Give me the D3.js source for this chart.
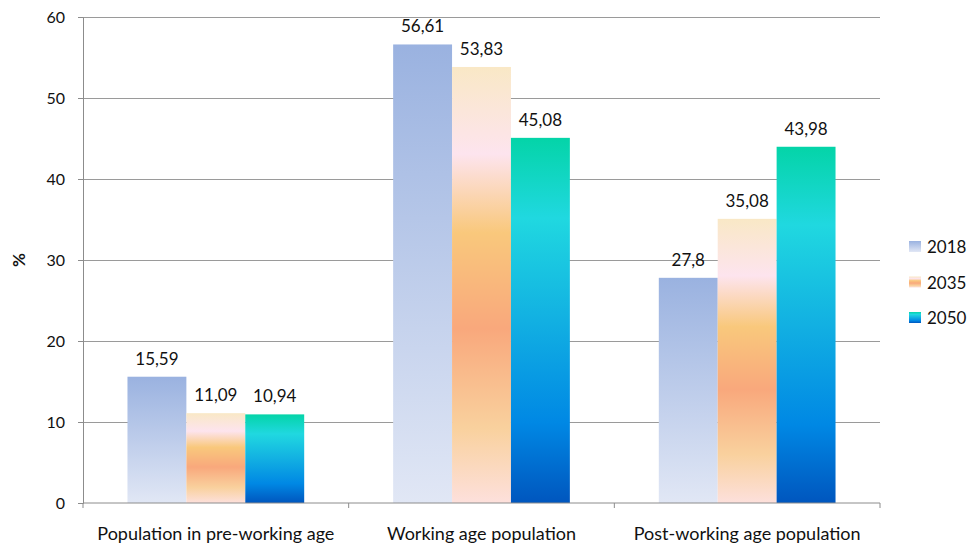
<!DOCTYPE html>
<html>
<head>
<meta charset="utf-8">
<script src="https://cdn.jsdelivr.net/npm/d3@7"></script>
<style>
  html, body { margin: 0; padding: 0; background: #fff; }
  svg text { font-family: "Lato", "Open Sans", "Liberation Sans", sans-serif; fill: #111; }
</style>
</head>
<body>
<svg id="chart" width="969" height="547"></svg>
<script>
// Population age structure (share of total, %)
const categories = ["Population in pre-working age", "Working age population", "Post-working age population"];
const years = ["2018", "2035", "2050"];
const values2018 = [15.59, 56.61, 27.8];
const values2035 = [11.09, 53.83, 35.08];
const values2050 = [10.94, 45.08, 43.98];
const labels2018 = ["15,59", "56,61", "27,8"];
const labels2035 = ["11,09", "53,83", "35,08"];
const labels2050 = ["10,94", "45,08", "43,98"];
const yTicks = [0, 10, 20, 30, 40, 50, 60];

const seriesValues = [values2018, values2035, values2050];
const seriesLabels = [labels2018, labels2035, labels2050];

const svg = d3.select("#chart");
const margin = { left: 83, right: 89, top: 17, bottom: 44 };
const W = 969, H = 547;
const FONT = "Lato, 'Open Sans', sans-serif";

const x0 = d3.scaleBand().domain(categories).range([margin.left, W - margin.right]).paddingInner(0).paddingOuter(0);
const x1 = d3.scaleBand().domain(years).range([0, x0.bandwidth()]).paddingInner(0).paddingOuter(0.755);
const y = d3.scaleLinear().domain([0, 60]).range([H - margin.bottom, margin.top]);

// Per-bar vertical gradients
const defs = svg.append("defs");
const gradients = {
  "2018": [[0, "#9ab2e0"], [1, "#e1e7f5"]],
  "2035": [[0, "#f9e8c6"], [0.2, "#fde4ee"], [0.38, "#f9c87c"], [0.6, "#f9a87c"], [0.83, "#f9d19e"], [1, "#fde0dc"]],
  "2050": [[0, "#04d4a8"], [0.22, "#20d8e0"], [0.5, "#12b0e2"], [0.78, "#0088e4"], [1, "#0056be"]]
};
years.forEach(yr => {
  const g = defs.append("linearGradient").attr("id", "grad" + yr)
    .attr("x1", 0).attr("y1", 0).attr("x2", 0).attr("y2", 1);
  gradients[yr].forEach(([o, c]) => g.append("stop").attr("offset", o).attr("stop-color", c));
});

// Gridlines
svg.append("g").selectAll("line").data(yTicks.filter(t => t > 0)).join("line")
  .attr("x1", margin.left).attr("x2", W - margin.right)
  .attr("y1", d => y(d)).attr("y2", d => y(d))
  .attr("stroke", "#9a9a9a").attr("stroke-width", 1).attr("shape-rendering", "crispEdges");

// Bars with value labels
const groups = svg.append("g").selectAll("g").data(categories).join("g")
  .attr("transform", d => `translate(${x0(d)},0)`);
groups.each(function(cat, ci) {
  const g = d3.select(this);
  years.forEach((yr, si) => {
    const v = seriesValues[si][ci];
    g.append("rect")
      .attr("x", x1(yr)).attr("width", x1.bandwidth())
      .attr("y", y(v)).attr("height", y(0) - y(v))
      .attr("fill", `url(#grad${yr})`);
    g.append("text")
      .attr("x", x1(yr) + x1.bandwidth() / 2).attr("y", y(v) - 12)
      .attr("text-anchor", "middle").attr("font-size", 17)
      .text(seriesLabels[si][ci]);
  });
});

// Y axis
const yAxis = svg.append("g").attr("transform", `translate(${margin.left},0)`)
  .call(d3.axisLeft(y).tickValues(yTicks).tickSize(5).tickPadding(13).tickFormat(d3.format("d")));
yAxis.select(".domain").attr("stroke", "#8c8c8c");
yAxis.selectAll(".tick line").attr("stroke", "#8c8c8c");
yAxis.selectAll(".tick text").attr("font-size", 16).attr("fill", "#111").style("font-family", FONT);

// X axis
const xAxis = svg.append("g").attr("transform", `translate(0,${y(0)})`)
  .call(d3.axisBottom(x0).tickSize(0).tickPadding(24));
xAxis.select(".domain").attr("stroke", "#8c8c8c").attr("d", `M${margin.left},0H${W - margin.right}`);
xAxis.selectAll(".tick text").attr("font-size", 18).attr("fill", "#111").style("font-family", FONT);
// Category separators
const bounds = categories.map(c => x0(c)).concat([x0(categories[categories.length - 1]) + x0.bandwidth()]);
xAxis.append("g").selectAll("line").data(bounds).join("line")
  .attr("x1", d => d).attr("x2", d => d).attr("y1", 0).attr("y2", 5)
  .attr("stroke", "#8c8c8c");

// Y axis title
svg.append("text")
  .attr("transform", `translate(25,${(y(0) + y(60)) / 2}) rotate(-90)`)
  .attr("text-anchor", "middle").attr("font-size", 17).attr("font-weight", "bold")
  .text("%");

// Legend
const legend = svg.append("g").attr("transform", "translate(909,241)");
years.forEach((yr, i) => {
  const lg = legend.append("g").attr("transform", `translate(0,${i * 35.5})`);
  lg.append("rect").attr("width", 12).attr("height", 11).attr("fill", `url(#grad${yr})`);
  lg.append("text").attr("x", 18).attr("y", 12).attr("font-size", 17).text(yr);
});
</script>
</body>
</html>
